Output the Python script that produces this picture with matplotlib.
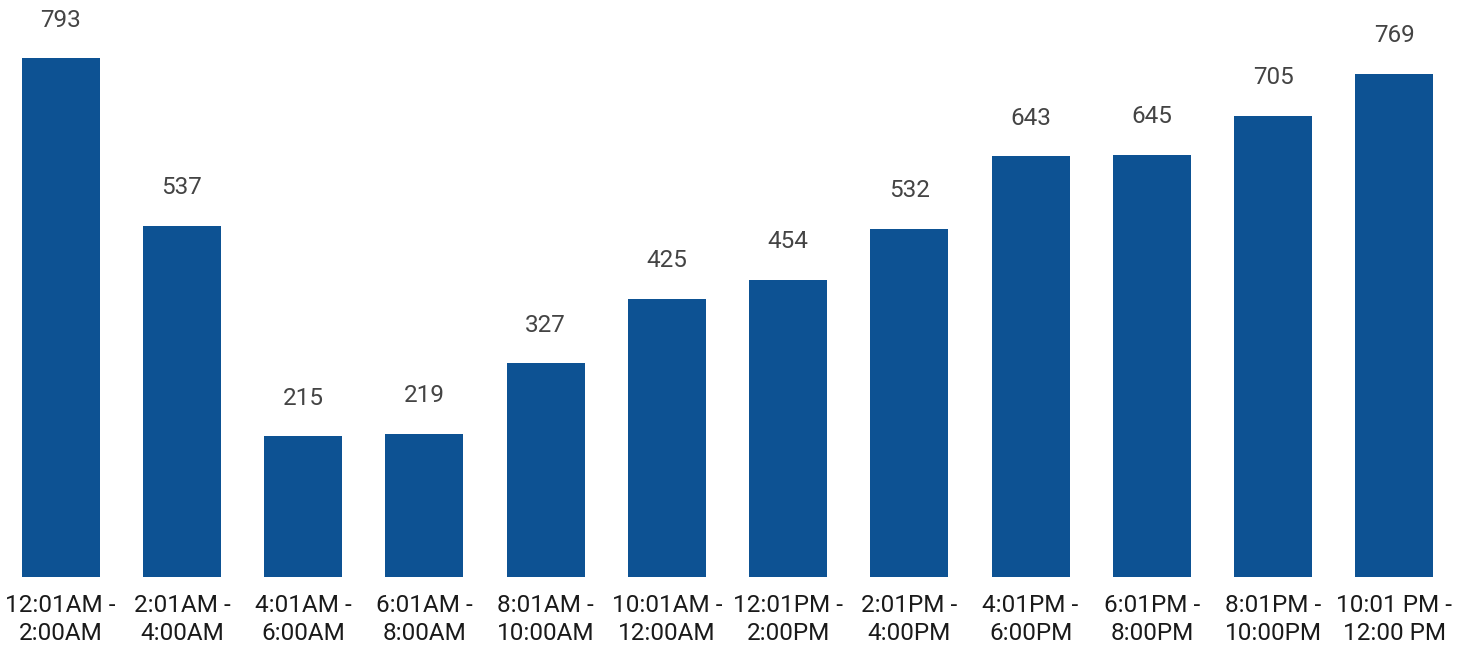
import matplotlib
matplotlib.use('Agg')
import matplotlib.pyplot as plt

# data
time_slots = ['12:01AM -\n2:00AM', '2:01AM -\n4:00AM', '4:01AM -\n6:00AM',
              '6:01AM -\n8:00AM', '8:01AM -\n10:00AM', '10:01AM -\n12:00AM',
              '12:01PM -\n2:00PM', '2:01PM -\n4:00PM', '4:01PM -\n6:00PM',
              '6:01PM -\n8:00PM', '8:01PM -\n10:00PM', '10:01 PM -\n12:00 PM']
counts = [793, 537, 215, 219, 327, 425, 454, 532, 643, 645, 705, 769]

plt.rcParams['font.family'] = ['Roboto', 'DejaVu Sans']

fig = plt.figure(figsize=(14.72, 6.47), dpi=100)
ax = fig.add_axes([0.0, 70 / 647, 1455 / 1472, 577 / 647])

x = range(len(counts))
bars = ax.bar(x, counts, width=0.645, color='#0d5293')

for bar, v in zip(bars, counts):
    ax.annotate(f'{v}', (bar.get_x() + bar.get_width() / 2, v),
                xytext=(0, 19), textcoords='offset points',
                ha='center', va='bottom', fontsize=17.5, color='#444444')

ax.set_xlim(-0.5, len(counts) - 0.5)
ax.set_ylim(0, 881.6)
ax.set_xticks(list(x))
ax.set_xticklabels(time_slots, fontsize=17.5, color='#1a1a1a', linespacing=1.28)
ax.tick_params(axis='x', length=0, pad=12)
ax.set_yticks([])
for s in ax.spines.values():
    s.set_visible(False)

plt.savefig('out.png', dpi=100)
plt.close()
